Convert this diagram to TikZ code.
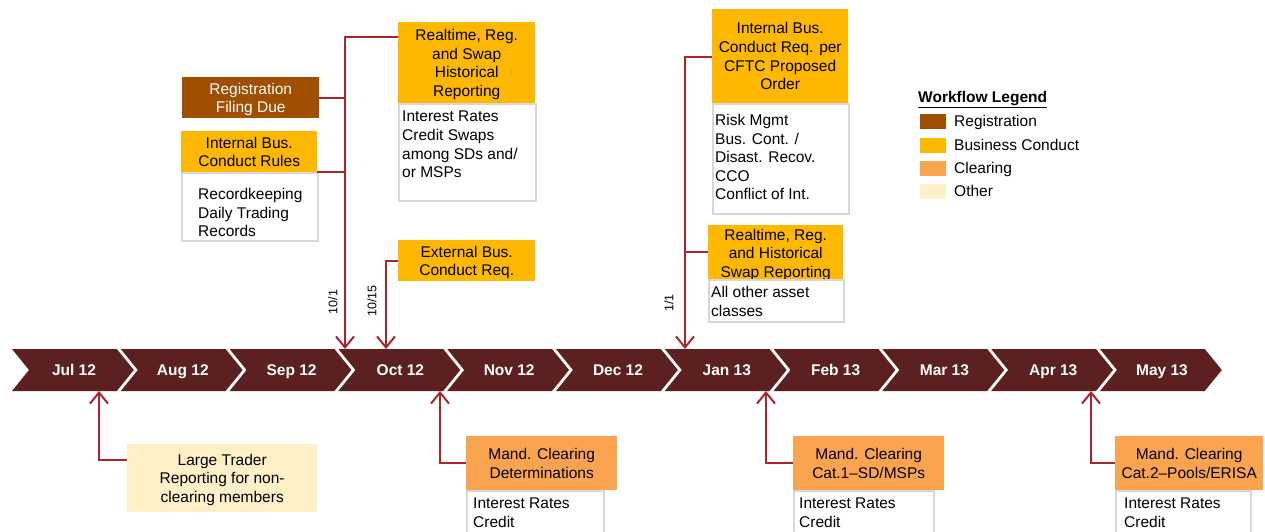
\documentclass[tikz,border=0pt]{standalone}
\usepackage{fontspec}
\setmainfont{Liberation Sans}
\usetikzlibrary{arrows.meta}
\definecolor{chevc}{RGB}{93,32,32}
\definecolor{connred}{RGB}{168,38,44}
\definecolor{bizy}{RGB}{255,184,0}
\definecolor{regb}{RGB}{160,78,0}
\definecolor{clro}{RGB}{251,164,80}
\definecolor{othc}{RGB}{255,240,200}
\definecolor{boxgray}{RGB}{215,215,215}
\newcommand\fsA{\fontsize{15.5}{18.6}\selectfont}
\newcommand\fsB{\fontsize{12.5}{14}\selectfont}
\begin{document}
\begin{tikzpicture}[x=1pt,y=-1pt,
  hdr/.style={rectangle, anchor=north west, inner sep=0pt, align=center, font=\fsA, text depth=0pt},
  txt/.style={anchor=north west, inner sep=0pt, align=left, font=\fsA},
  wbox/.style={rectangle, anchor=north west, draw=boxgray, line width=2pt, fill=white, inner sep=0pt},
  conn/.style={draw=connred, line width=2pt},
  arr/.style={conn, -{Straight Barb[length=11pt,width=18pt]}},
  chevlabel/.style={font=\fsA\bfseries, text=white, inner sep=0pt, anchor=base},
  swatch/.style={rectangle, anchor=north west, inner sep=0pt, minimum width=26pt, minimum height=15pt},
  datelab/.style={rotate=90, font=\fsB, inner sep=0pt}]
\useasboundingbox (0,0) rectangle (1265,531);
\clip (0,0) rectangle (1265,531);
\fill[white] (0,0) rectangle (1265,531);

% timeline chevrons
\foreach \i/\m in {0/Jul 12,1/Aug 12,2/Sep 12,3/Oct 12,4/Nov 12,5/Dec 12,6/Jan 13,7/Feb 13,8/Mar 13,9/Apr 13,10/May 13}{
  \pgfmathsetmacro\xx{12+108.8*\i}
  \fill[chevc] (\xx,349) -- ++(104.8,0) -- ++(17,21) -- ++(-17,21) -- ++(-104.8,0) -- ++(17,-21) -- cycle;
  \node[chevlabel] (m\i) at (\xx+62,375.5) {\m};
}

% arrow end points on the timeline
\coordinate (t1) at (345,349);
\coordinate (t2) at (386,349);
\coordinate (t3) at (685,349);
\coordinate (b1) at (99,391);
\coordinate (b2) at (440,391);
\coordinate (b3) at (766,391);
\coordinate (b4) at (1091,391);

% top boxes
\node[hdr, fill=bizy, minimum width=137pt, minimum height=81pt] (rt1h) at (398,22) {Realtime, Reg.\\and Swap\\Historical\\Reporting};
\node[wbox, minimum width=137pt, minimum height=97pt] (rt1b) at (398,103) {};
\node[txt] (rt1t) at (402,111) {Interest Rates\\Credit Swaps\\among SDs and/\\or MSPs};

\node[hdr, fill=regb, text=white, minimum width=137pt, minimum height=41pt] (reg) at (182,77) {Registration\\Filing Due};

\node[hdr, fill=bizy, minimum width=136pt, minimum height=41pt] (ibrh) at (181,131) {Internal Bus.\\Conduct Rules};
\node[wbox, minimum width=136pt, minimum height=68pt] (ibrb) at (181,172) {};
\node[txt] (ibrt) at (198,188) {Recordkeeping\\Daily Trading\\Records};

\node[hdr, fill=bizy, minimum width=137pt, minimum height=41pt] (ext) at (398,240) {External Bus.\\Conduct Req.};

\node[hdr, fill=bizy, minimum width=136pt, minimum height=94pt] (ibch) at (712,9) {Internal Bus.\\Conduct Req. per\\CFTC Proposed\\Order};
\node[wbox, minimum width=136pt, minimum height=110pt] (ibcb) at (712,103) {};
\node[txt] (ibct) at (715,114) {Risk Mgmt\\Bus. Cont. /\\Disast. Recov.\\CCO\\Conflict of Int.};

\node[hdr, fill=bizy, minimum width=135pt, minimum height=56pt] (rt2h) at (708,225) {Realtime, Reg.\\and Historical\\Swap Reporting};
\node[wbox, minimum width=135pt, minimum height=42pt] (rt2b) at (708,279) {};
\node[txt] (rt2t) at (711,286) {All other asset\\classes};

% legend
\node[txt, font=\fsA\bfseries] (legt) at (918,91) {\underline{Workflow Legend}};
\node[swatch, fill=regb] (s1) at (920,114) {};
\node[swatch, fill=bizy] (s2) at (920,138) {};
\node[swatch, fill=clro] (s3) at (920,161) {};
\node[swatch, fill=othc] (s4) at (920,184) {};
\node[anchor=base west, font=\fsA, inner sep=0pt] (l1) at (954,126.5) {Registration};
\node[anchor=base west, font=\fsA, inner sep=0pt] (l2) at (954,150.5) {Business Conduct};
\node[anchor=base west, font=\fsA, inner sep=0pt] (l3) at (954,173.5) {Clearing};
\node[anchor=base west, font=\fsA, inner sep=0pt] (l4) at (954,196.5) {Other};

% bottom boxes
\node[hdr, fill=othc, minimum width=190pt, minimum height=68pt] (lt) at (127,444) {Large Trader\\Reporting for non-\\clearing members};

\node[hdr, fill=clro, minimum width=151pt, minimum height=54pt] (mcdh) at (466,436) {Mand. Clearing\\Determinations};
\node[wbox, minimum width=137pt, minimum height=60pt] (mcdb) at (466,490) {};
\node[txt] (mcdt) at (473,498) {Interest Rates\\Credit};

\node[hdr, fill=clro, minimum width=151pt, minimum height=54pt] (mc1h) at (793,436) {Mand. Clearing\\Cat.1–SD/MSPs};
\node[wbox, minimum width=140pt, minimum height=60pt] (mc1b) at (793,490) {};
\node[txt] (mc1t) at (799,498) {Interest Rates\\Credit};

\node[hdr, fill=clro, minimum width=148pt, minimum height=54pt] (mc2h) at (1115,436) {Mand. Clearing\\Cat.2–Pools/ERISA};
\node[wbox, minimum width=135pt, minimum height=60pt] (mc2b) at (1115,490) {};
\node[txt] (mc2t) at (1124,498) {Interest Rates\\Credit};

% dates
\node[datelab] (d1) at (333,302) {10/1};
\node[datelab] (d2) at (372,301) {10/15};
\node[datelab] (d3) at (669,303) {1/1};

% connectors
\draw[arr] ([yshift=-15pt]rt1h.north west) -| (t1);
\draw[conn] (reg.east) -- (reg.east -| t1);
\draw[conn] (ibrh.south east) -- (ibrh.south east -| t1);
\draw[arr] (ext.west) -| (t2);
\draw[arr] ([yshift=-48pt]ibch.north west) -| (t3);
\draw[conn] ([yshift=-27pt]rt2h.north west) -- ([yshift=-27pt]rt2h.north west -| t3);

\draw[arr] ([yshift=-16pt]lt.north west) -| (b1);
\draw[arr] (mcdh.west) -| (b2);
\draw[arr] (mc1h.west) -| (b3);
\draw[arr] (mc2h.west) -| (b4);
\end{tikzpicture}
\end{document}
